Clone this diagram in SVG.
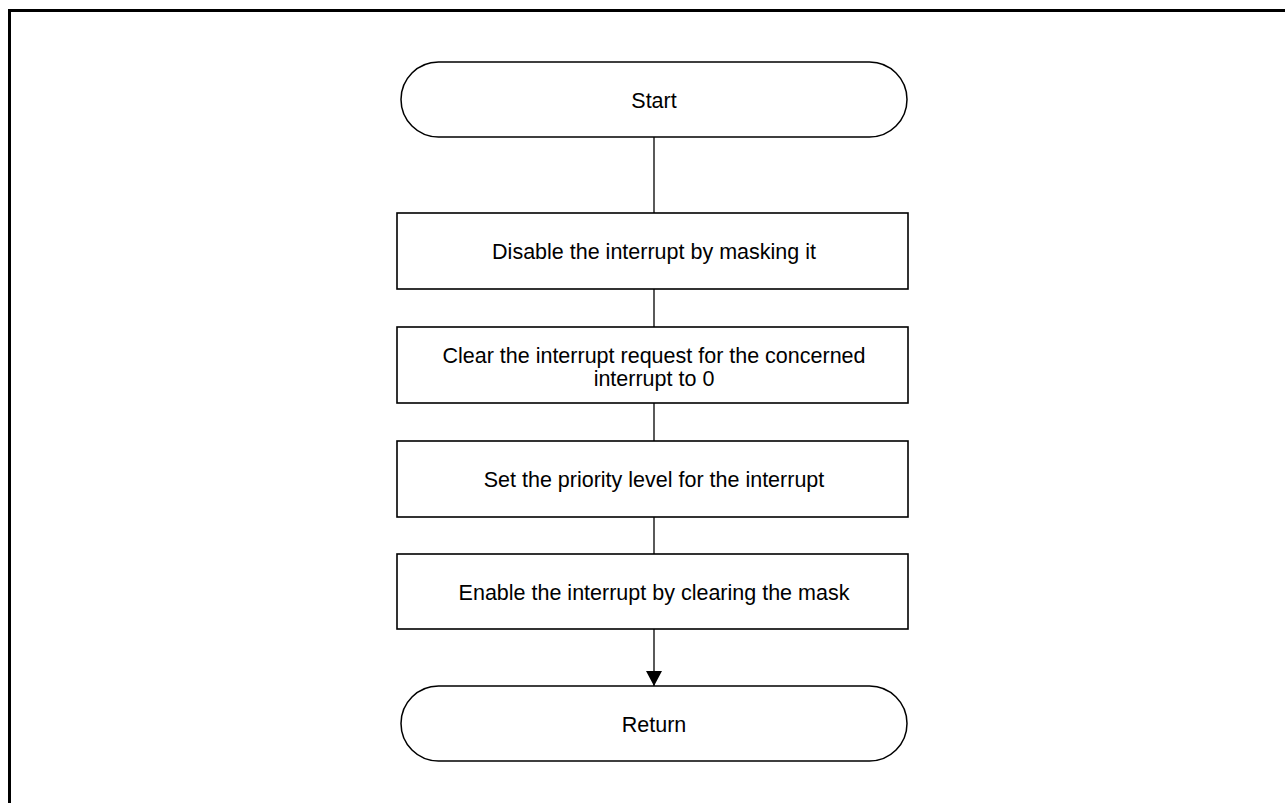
<svg xmlns="http://www.w3.org/2000/svg" width="1285" height="803" viewBox="0 0 1285 803">
  <style>
    .frame { fill: none; stroke: #000; stroke-width: 3; }
    .term { fill: #fff; stroke: #000; stroke-width: 1.5; }
    .proc { fill: #fff; stroke: #000; stroke-width: 1.6; }
    .conn { fill: none; stroke: #000; stroke-width: 1.3; }
    .lbl { font-family: "Liberation Sans", Arial, sans-serif; font-size: 21.5px; fill: #000; text-anchor: middle; }
  </style>
  <defs>
    <marker id="arrow" markerWidth="16" markerHeight="16" refX="15" refY="8" orient="auto" markerUnits="userSpaceOnUse">
      <path d="M0,0 L15,8 L0,16 Z" fill="#000"/>
    </marker>
  </defs>
  <rect width="1285" height="803" fill="#fff"/>
  <!-- outer frame, open at right and bottom -->
  <path class="frame" d="M9.5,803 V10.5 H1285"/>

  <g id="connectors">
    <line class="conn" x1="654" y1="137" x2="654" y2="213"/>
    <line class="conn" x1="654" y1="289" x2="654" y2="327"/>
    <line class="conn" x1="654" y1="403" x2="654" y2="441"/>
    <line class="conn" x1="654" y1="517" x2="654" y2="554"/>
    <line class="conn" x1="654" y1="629" x2="654" y2="686" marker-end="url(#arrow)"/>
  </g>

  <g id="start">
    <rect class="term" x="401" y="62" width="506" height="75" rx="37.5" ry="37.5"/>
    <text class="lbl" x="654" y="107.5">Start</text>
  </g>
  <g id="mask">
    <rect class="proc" x="397" y="213" width="511" height="76"/>
    <text class="lbl" x="654" y="258.5">Disable the interrupt by masking it</text>
  </g>
  <g id="clear">
    <rect class="proc" x="397" y="327" width="511" height="76"/>
    <text class="lbl" x="654" y="362.5">Clear the interrupt request for the concerned</text>
    <text class="lbl" x="654" y="385.5">interrupt to 0</text>
  </g>
  <g id="priority">
    <rect class="proc" x="397" y="441" width="511" height="76"/>
    <text class="lbl" x="654" y="486.5">Set the priority level for the interrupt</text>
  </g>
  <g id="enable">
    <rect class="proc" x="397" y="554" width="511" height="75"/>
    <text class="lbl" x="654" y="599.5">Enable the interrupt by clearing the mask</text>
  </g>
  <g id="return">
    <rect class="term" x="401" y="686" width="506" height="75" rx="37.5" ry="37.5"/>
    <text class="lbl" x="654" y="731.5">Return</text>
  </g>
</svg>
